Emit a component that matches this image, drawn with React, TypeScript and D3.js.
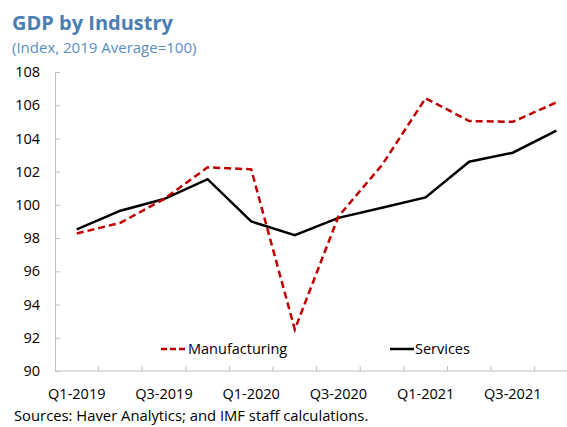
import * as d3 from "d3";
import { useEffect, useRef } from "react";

const quarters = [
  "Q1-2019", "Q2-2019", "Q3-2019", "Q4-2019",
  "Q1-2020", "Q2-2020", "Q3-2020", "Q4-2020",
  "Q1-2021", "Q2-2021", "Q3-2021", "Q4-2021",
];
const manufacturing = [98.28, 98.92, 100.35, 102.26, 102.14, 92.5, 99.3, 102.4, 106.42, 105.05, 105.0, 106.17];
const services = [98.52, 99.65, 100.35, 101.55, 99.0, 98.18, 99.22, 99.83, 100.45, 102.6, 103.14, 104.47];
const yTicks = [90, 92, 94, 96, 98, 100, 102, 104, 106, 108];
const xLabels = ["Q1-2019", "Q3-2019", "Q1-2020", "Q3-2020", "Q1-2021", "Q3-2021"];

const W = 567;
const H = 427;
const FONT = "'Open Sans', 'Noto Sans', sans-serif";

function App() {
  const ref = useRef<SVGSVGElement>(null);

  useEffect(() => {
    const svg = d3.select(ref.current);
    svg.selectAll("*").remove();

    const left = 55;
    const top = 72;
    const bottom = 371;
    const band = 43.6;

    const x = d3
      .scaleBand()
      .domain(quarters)
      .range([left, left + band * quarters.length]);
    const y = d3.scaleLinear().domain([90, 108]).range([bottom, top]);

    const axisColor = "#bfbfbf";

    // title
    svg.append("text")
      .attr("x", 12)
      .attr("y", 30)
      .attr("font-family", FONT)
      .attr("font-weight", "bold")
      .attr("font-size", 20)
      .attr("fill", "#4a7eb3")
      .text("GDP by Industry");
    svg.append("text")
      .attr("x", 12)
      .attr("y", 53)
      .attr("font-family", FONT)
      .attr("font-size", 15)
      .attr("fill", "#5a8dc2")
      .text("(Index, 2019 Average=100)");

    // y axis
    const yAxis = d3.axisLeft(y).tickValues(yTicks).tickSize(-5).tickPadding(15).tickFormat(d3.format("d"));
    const gy = svg.append("g").attr("transform", `translate(${left},0)`).call(yAxis);
    gy.select(".domain").attr("stroke", axisColor);
    gy.selectAll(".tick line").attr("stroke", axisColor);
    gy.selectAll("text")
      .attr("font-family", FONT)
      .attr("font-size", 14.5)
      .attr("fill", "#000");

    // x axis
    const gx = svg.append("g").attr("transform", `translate(0,${bottom})`);
    gx.append("line")
      .attr("x1", left)
      .attr("x2", W)
      .attr("y1", 0)
      .attr("y2", 0)
      .attr("stroke", axisColor);
    gx.selectAll(".xt")
      .data(quarters.slice(1))
      .enter()
      .append("line")
      .attr("x1", (d) => x(d)!)
      .attr("x2", (d) => x(d)!)
      .attr("y1", 0)
      .attr("y2", -5)
      .attr("stroke", axisColor);
    gx.selectAll(".xl")
      .data(xLabels)
      .enter()
      .append("text")
      .attr("x", (d) => x(d)! + x.bandwidth() / 2)
      .attr("y", 28)
      .attr("text-anchor", "middle")
      .attr("font-family", FONT)
      .attr("font-size", 14.5)
      .attr("fill", "#000")
      .text((d) => d);

    const cx = (i: number) => x(quarters[i])! + x.bandwidth() / 2;
    const line = d3
      .line<number>()
      .x((_, i) => cx(i))
      .y((d) => y(d));

    svg.append("path")
      .datum(services)
      .attr("d", line)
      .attr("fill", "none")
      .attr("stroke", "#000")
      .attr("stroke-width", 2.5);
    svg.append("path")
      .datum(manufacturing)
      .attr("d", line)
      .attr("fill", "none")
      .attr("stroke", "#c00000")
      .attr("stroke-width", 2.5)
      .attr("stroke-dasharray", "7,4");

    // legend
    const legend = svg.append("g").attr("font-family", FONT).attr("font-size", 14.5);
    legend.append("line")
      .attr("x1", 161).attr("x2", 186).attr("y1", 349).attr("y2", 349)
      .attr("stroke", "#c00000").attr("stroke-width", 2.5).attr("stroke-dasharray", "6,3");
    legend.append("text").attr("x", 188).attr("y", 354).text("Manufacturing");
    legend.append("line")
      .attr("x1", 390).attr("x2", 414).attr("y1", 349).attr("y2", 349)
      .attr("stroke", "#000").attr("stroke-width", 2.5);
    legend.append("text").attr("x", 415).attr("y", 354).text("Services");

    // source
    svg.append("text")
      .attr("x", 14)
      .attr("y", 421)
      .attr("font-family", FONT)
      .attr("font-size", 14.8)
      .text("Sources: Haver Analytics; and IMF staff calculations.");
  }, []);

  return (
    <svg
      ref={ref}
      width={W}
      height={H}
      style={{ position: "absolute", left: 0, top: 0, background: "#fff" }}
    />
  );
}

export default App;
